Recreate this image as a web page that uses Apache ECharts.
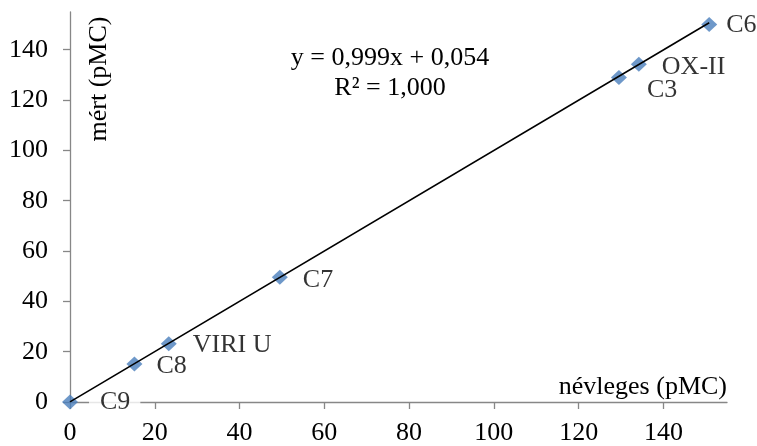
<!DOCTYPE html>
<html>
<head>
<meta charset="utf-8">
<script src="https://cdn.jsdelivr.net/npm/echarts@6/dist/echarts.min.js"></script>
<style>
html,body{margin:0;padding:0;background:#fff;}
#chart{width:757px;height:446px;}
</style>
</head>
<body>
<div id="chart"></div>
<script>
// Sample names and their nominal vs. measured activity (pMC)
const names    = ['C9', 'C8', 'VIRI U', 'C7', 'C3', 'OX-II', 'C6'];
const nominal  = [0, 15.2, 23.3, 49.5, 129.5, 134.2, 150.8];
const measured = [0, 15.1, 23.2, 49.6, 129.0, 134.2, 150.0];

// Linear fit shown on the chart
const slope = 0.999;
const intercept = 0.054;
const rSquared = '1,000';

const tickValues = [0, 20, 40, 60, 80, 100, 120, 140];

// Label offsets (px) placing each sample name beside its marker
const labelOffsets = [[1, 0], [4, 2], [6, 2], [5, 3], [10, 13], [5, 3], [-1, 1]];

const font = '"Liberation Serif", "Times New Roman", serif';
const fs = 26;

const points = names.map((n, i) => ({
  value: [nominal[i], measured[i]],
  name: n,
  label: i === 0
    ? { offset: labelOffsets[i], backgroundColor: '#fff', padding: [0, 10, 0, 11] }
    : { offset: labelOffsets[i] }
}));

const xMin = Math.min(...nominal), xMax = Math.max(...nominal);
const fitLine = [[xMin, slope * xMin + intercept], [xMax, slope * xMax + intercept]];

const chart = echarts.init(document.getElementById('chart'), null, { renderer: 'canvas' });
chart.setOption({
  animation: false,
  backgroundColor: '#fff',
  grid: { left: 70, right: 30, top: 12, bottom: 41, containLabel: false },
  xAxis: {
    type: 'value', min: 0, max: 155, interval: 20,
    name: 'névleges (pMC)', nameLocation: 'end', nameGap: 0,
    nameTextStyle: { fontFamily: font, fontSize: fs, color: '#000', align: 'right', verticalAlign: 'bottom', padding: [0, 0, 2, 0] },
    axisLine: { show: true, onZero: false, lineStyle: { color: '#878787', width: 1.3 } },
    axisTick: { show: true, length: 7, lineStyle: { color: '#878787', width: 1.3 }, customValues: tickValues },
    axisLabel: { fontFamily: font, fontSize: fs, color: '#000', margin: 18, customValues: tickValues },
    splitLine: { show: false }
  },
  yAxis: {
    type: 'value', min: 0, max: 155, interval: 20,
    axisLine: { show: true, onZero: false, lineStyle: { color: '#878787', width: 1.3 } },
    axisTick: { show: true, length: 7, lineStyle: { color: '#878787', width: 1.3 }, customValues: tickValues },
    axisLabel: { fontFamily: font, fontSize: fs, color: '#000', margin: 22, customValues: tickValues },
    splitLine: { show: false }
  },
  series: [
    {
      type: 'line',
      data: fitLine,
      symbol: 'none',
      lineStyle: { color: '#000', width: 1.6 },
      silent: true,
      z: 3
    },
    {
      type: 'scatter',
      data: points,
      symbol: 'diamond',
      symbolSize: [16, 15],
      itemStyle: { color: '#4a7ebb' },
      label: {
        show: true, position: 'right', distance: 10,
        formatter: p => p.name,
        fontFamily: font, fontSize: fs, color: '#000'
      },
      z: 2
    }
  ],
  graphic: [
    {
      type: 'text', x: 390, y: 58,
      style: { text: 'y = 0,999x + 0,054', font: fs + 'px ' + font, fill: '#000', align: 'center', verticalAlign: 'middle' }
    },
    {
      type: 'text', x: 390, y: 88,
      style: { text: 'R² = ' + rSquared, font: fs + 'px ' + font, fill: '#000', align: 'center', verticalAlign: 'middle' }
    },
    {
      type: 'text', x: 99, y: 79, rotation: Math.PI / 2,
      style: { text: 'mért (pMC)', font: fs + 'px ' + font, fill: '#000', align: 'center', verticalAlign: 'middle' }
    }
  ]
});
</script>
</body>
</html>
